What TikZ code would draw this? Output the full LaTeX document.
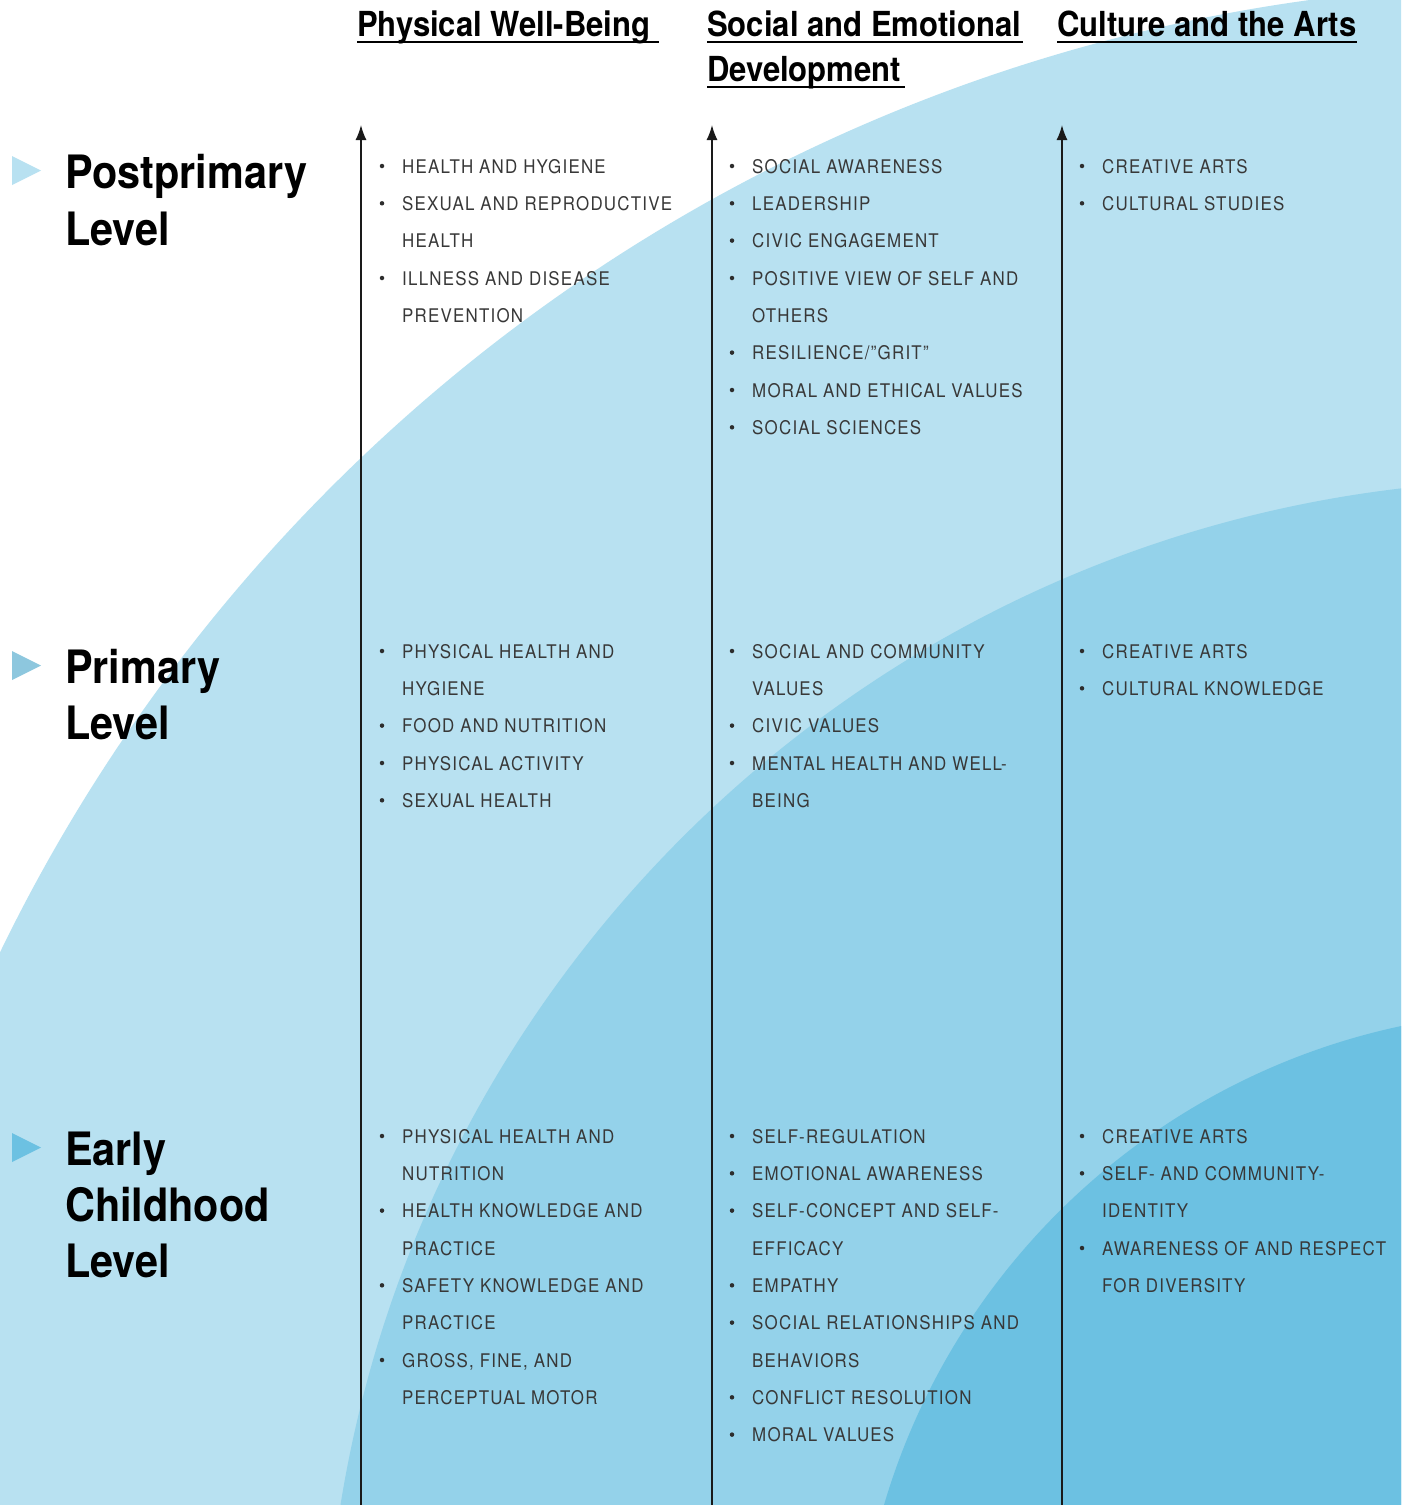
\documentclass[tikz,border=0pt]{standalone}
\usepackage{fontspec}
\setmainfont{TeX Gyre Heros}
\newfontfamily\hfont[FakeStretch=0.9]{TeX Gyre Heros}
\newfontfamily\ifont[FakeStretch=0.9,LetterSpace=6.5]{TeX Gyre Heros}
\usetikzlibrary{arrows.meta}
\definecolor{cA}{HTML}{B8E1F1}
\definecolor{cB}{HTML}{94D2EA}
\definecolor{cC}{HTML}{6CC1E2}
\definecolor{txtgray}{HTML}{383838}
\definecolor{axisgray}{HTML}{1A1A1A}
\tikzset{
  head/.style={anchor=base west, inner sep=0pt, font=\hfont\bfseries\fontsize{34.5}{40}\selectfont, text=black},
  lvl/.style={anchor=base west, inner sep=0pt, font=\hfont\bfseries\fontsize{46}{52}\selectfont, text=black},
  itemtxt/.style={anchor=base west, inner sep=0pt, font=\ifont\fontsize{18.8}{22}\selectfont, text=txtgray},
  dotb/.style={circle, fill=txtgray!80!black, inner sep=0pt, minimum size=4.5pt},
  uline/.style={line width=2pt, draw=black},
  axisline/.style={line width=1.5pt, draw=axisgray, -{Latex[length=15pt,width=11pt]}},
}
\newcommand{\itm}[4]{\node[dotb] (#1b) at (#2-20,#3) {};\node[itemtxt] (#1) at (#2,#3+7.2) {#4};}
\newcommand{\cnt}[4]{\node[itemtxt] (#1) at (#2,#3+7.2) {#4};}
\begin{document}
\begin{tikzpicture}[x=1pt,y=-1pt]
\useasboundingbox (0,0) rectangle (1401,1505);
\begin{scope}
\clip (0,0) rectangle (1401,1505);
\fill[white] (0,0) rectangle (1401,1505);
\fill[cA] (1545,1700) circle[radius=1716pt];
\fill[cB] (1545,1700) circle[radius=1220pt];
\fill[cC] (1545,1700) circle[radius=689pt];
\end{scope}
% level markers
\fill[cA] (12,156) -- (12,185) -- (41,170.5) -- cycle;
\fill[cB!95!black] (12,651) -- (12,680) -- (41,665.5) -- cycle;
\fill[cC] (12,1133) -- (12,1162) -- (41,1147.5) -- cycle;
% level labels
\node[lvl] (l1a) at (65,188) {Postprimary};
\node[lvl] (l1b) at (65,245) {Level};
\node[lvl] (l2a) at (65,683) {Primary};
\node[lvl] (l2b) at (65,739) {Level};
\node[lvl] (l3a) at (65,1165) {Early};
\node[lvl] (l3b) at (65,1221) {Childhood};
\node[lvl] (l3c) at (65,1277) {Level};
% headings
\node[head] (h1) at (357,36) {Physical Well-Being};
\node[head] (h2) at (707,36) {Social and Emotional};
\node[head] (h2b) at (707,81) {Development};
\node[head] (h3) at (1057,36) {Culture and the Arts};
\draw[uline] ([yshift=-5.5pt]h1.base west) -- ([yshift=-5.5pt,xshift=8pt]h1.base east);
\draw[uline] ([yshift=-5.5pt]h2.base west) -- ([yshift=-5.5pt,xshift=2pt]h2.base east);
\draw[uline] ([yshift=-5.5pt]h2b.base west) -- ([yshift=-5.5pt,xshift=4pt]h2b.base east);
\draw[uline] ([yshift=-5.5pt]h3.base west) -- ([yshift=-5.5pt]h3.base east);
% axes
\coordinate (a1s) at (361,1510); \coordinate (a1e) at (361,125);
\coordinate (a2s) at (712,1510); \coordinate (a2e) at (712,125);
\coordinate (a3s) at (1062,1510); \coordinate (a3e) at (1062,125);
\draw[axisline] (a1s) -- (a1e);
\draw[axisline] (a2s) -- (a2e);
\draw[axisline] (a3s) -- (a3e);
% ---- Postprimary
\itm{pa1}{402}{166}{HEALTH AND HYGIENE}
\itm{pa2}{402}{203.3}{SEXUAL AND REPRODUCTIVE}
\cnt{pa2c}{402}{240.6}{HEALTH}
\itm{pa3}{402}{278}{ILLNESS AND DISEASE}
\cnt{pa3c}{402}{315.3}{PREVENTION}
\itm{pb1}{752}{166}{SOCIAL AWARENESS}
\itm{pb2}{752}{203.3}{LEADERSHIP}
\itm{pb3}{752}{240.6}{CIVIC ENGAGEMENT}
\itm{pb4}{752}{278}{POSITIVE VIEW OF SELF AND}
\cnt{pb4c}{752}{315.3}{OTHERS}
\itm{pb5}{752}{352.6}{RESILIENCE/”GRIT”}
\itm{pb6}{752}{390}{MORAL AND ETHICAL VALUES}
\itm{pb7}{752}{427.3}{SOCIAL SCIENCES}
\itm{pc1}{1102}{166}{CREATIVE ARTS}
\itm{pc2}{1102}{203.3}{CULTURAL STUDIES}
% ---- Primary
\itm{qa1}{402}{651}{PHYSICAL HEALTH AND}
\cnt{qa1c}{402}{688.3}{HYGIENE}
\itm{qa2}{402}{725.6}{FOOD AND NUTRITION}
\itm{qa3}{402}{763}{PHYSICAL ACTIVITY}
\itm{qa4}{402}{800.3}{SEXUAL HEALTH}
\itm{qb1}{752}{651}{SOCIAL AND COMMUNITY}
\cnt{qb1c}{752}{688.3}{VALUES}
\itm{qb2}{752}{725.6}{CIVIC VALUES}
\itm{qb3}{752}{763}{MENTAL HEALTH AND WELL-}
\cnt{qb3c}{752}{800.3}{BEING}
\itm{qc1}{1102}{651}{CREATIVE ARTS}
\itm{qc2}{1102}{688.3}{CULTURAL KNOWLEDGE}
% ---- Early childhood
\itm{ra1}{402}{1136}{PHYSICAL HEALTH AND}
\cnt{ra1c}{402}{1173.3}{NUTRITION}
\itm{ra2}{402}{1210.6}{HEALTH KNOWLEDGE AND}
\cnt{ra2c}{402}{1248}{PRACTICE}
\itm{ra3}{402}{1285.3}{SAFETY KNOWLEDGE AND}
\cnt{ra3c}{402}{1322.6}{PRACTICE}
\itm{ra4}{402}{1360}{GROSS, FINE, AND}
\cnt{ra4c}{402}{1397.3}{PERCEPTUAL MOTOR}
\itm{rb1}{752}{1136}{SELF-REGULATION}
\itm{rb2}{752}{1173.3}{EMOTIONAL AWARENESS}
\itm{rb3}{752}{1210.6}{SELF-CONCEPT AND SELF-}
\cnt{rb3c}{752}{1248}{EFFICACY}
\itm{rb4}{752}{1285.3}{EMPATHY}
\itm{rb5}{752}{1322.6}{SOCIAL RELATIONSHIPS AND}
\cnt{rb5c}{752}{1360}{BEHAVIORS}
\itm{rb6}{752}{1397.3}{CONFLICT RESOLUTION}
\itm{rb7}{752}{1434.6}{MORAL VALUES}
\itm{rc1}{1102}{1136}{CREATIVE ARTS}
\itm{rc2}{1102}{1173.3}{SELF- AND COMMUNITY-}
\cnt{rc2c}{1102}{1210.6}{IDENTITY}
\itm{rc3}{1102}{1248}{AWARENESS OF AND RESPECT}
\cnt{rc3c}{1102}{1285.3}{FOR DIVERSITY}
\end{tikzpicture}
\end{document}
